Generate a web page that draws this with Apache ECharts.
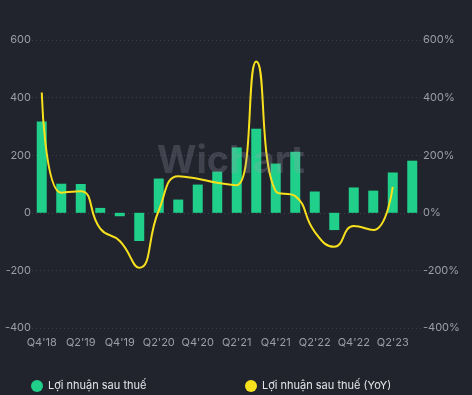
<!DOCTYPE html>
<html><head><meta charset="utf-8">
<script src="https://cdn.jsdelivr.net/npm/echarts@6/dist/echarts.min.js"></script>
<style>html,body{margin:0;padding:0;background:#21232d;}#c{width:472px;height:395px;}</style>
</head><body><div id="c"></div>
<script>
const categories = ["Q4'18","Q1'19","Q2'19","Q3'19","Q4'19","Q1'20","Q2'20","Q3'20","Q4'20","Q1'21","Q2'21","Q3'21","Q4'21","Q1'22","Q2'22","Q3'22","Q4'22","Q1'23","Q2'23","Q3'23"];
const profit = [317,101,100,17,-12,-98,119,46,98,143,227,292,171,212,74,-60,88,77,140,181];
const profitYoY = [418,70,75,-55,-98,-191,8,127,118,104,96,525,75,58,-66,-118,-46,-60,90,null];
const leftTicks = [-400,600,200];
const rightTicks = [-400,600,200];
const FONT = 'Inter';
const chart = echarts.init(document.getElementById('c'));
chart.setOption({
  backgroundColor: '#21232d',
  animation: false,
  textStyle: {fontFamily: FONT},
  graphic: [{
    type: 'text', left: 157, top: 143, z: 100, silent: true,
    style: {text: 'Wichart', fontSize: 38, fontWeight: 'bold', fontFamily: FONT, fill: 'rgba(160,162,175,0.25)'}
  }],
  legend: [{
    data: ['Lợi nhuận sau thuế'], left: 26, top: 375, itemWidth: 12, itemHeight: 12, icon: 'circle', itemGap: 8,
    textStyle: {color: '#e6e6ea', fontSize: 11, fontFamily: FONT}
  },{
    data: ['Lợi nhuận sau thuế (YoY)'], left: 240, top: 375, itemWidth: 12, itemHeight: 12, icon: 'circle',
    textStyle: {color: '#e6e6ea', fontSize: 11, fontFamily: FONT}
  }],
  grid: {left: 32, right: 50, top: 40, bottom: 67},
  xAxis: {
    type: 'category', data: categories,
    axisLine: {show: false, onZero: false}, axisTick: {show: false},
    axisLabel: {color: '#9b9da8', fontSize: 11, interval: 1, margin: 9, fontFamily: FONT}
  },
  yAxis: [{
    type: 'value', min: leftTicks[0], max: leftTicks[1], interval: leftTicks[2],
    axisLabel: {color: '#9b9da8', fontSize: 11, margin: 1, fontFamily: FONT},
    splitLine: {lineStyle: {color: '#3a3d4b', type: [1, 3]}},
    axisLine: {show: false}, axisTick: {show: false}
  },{
    type: 'value', min: rightTicks[0], max: rightTicks[1], interval: rightTicks[2],
    axisLabel: {color: '#9b9da8', fontSize: 11, margin: 1, formatter: '{value}%', fontFamily: FONT},
    splitLine: {show: false}, axisLine: {show: false}, axisTick: {show: false}
  }],
  series: [{
    name: 'Lợi nhuận sau thuế', type: 'bar', data: profit, yAxisIndex: 0,
    barWidth: 10, itemStyle: {color: '#1fcf8a'}
  },{
    name: 'Lợi nhuận sau thuế (YoY)', type: 'line', data: profitYoY, yAxisIndex: 1,
    smooth: true, symbol: 'none', lineStyle: {color: '#f7e11d', width: 2}, itemStyle: {color: '#f7e11d'}
  }]
});
</script></body></html>
